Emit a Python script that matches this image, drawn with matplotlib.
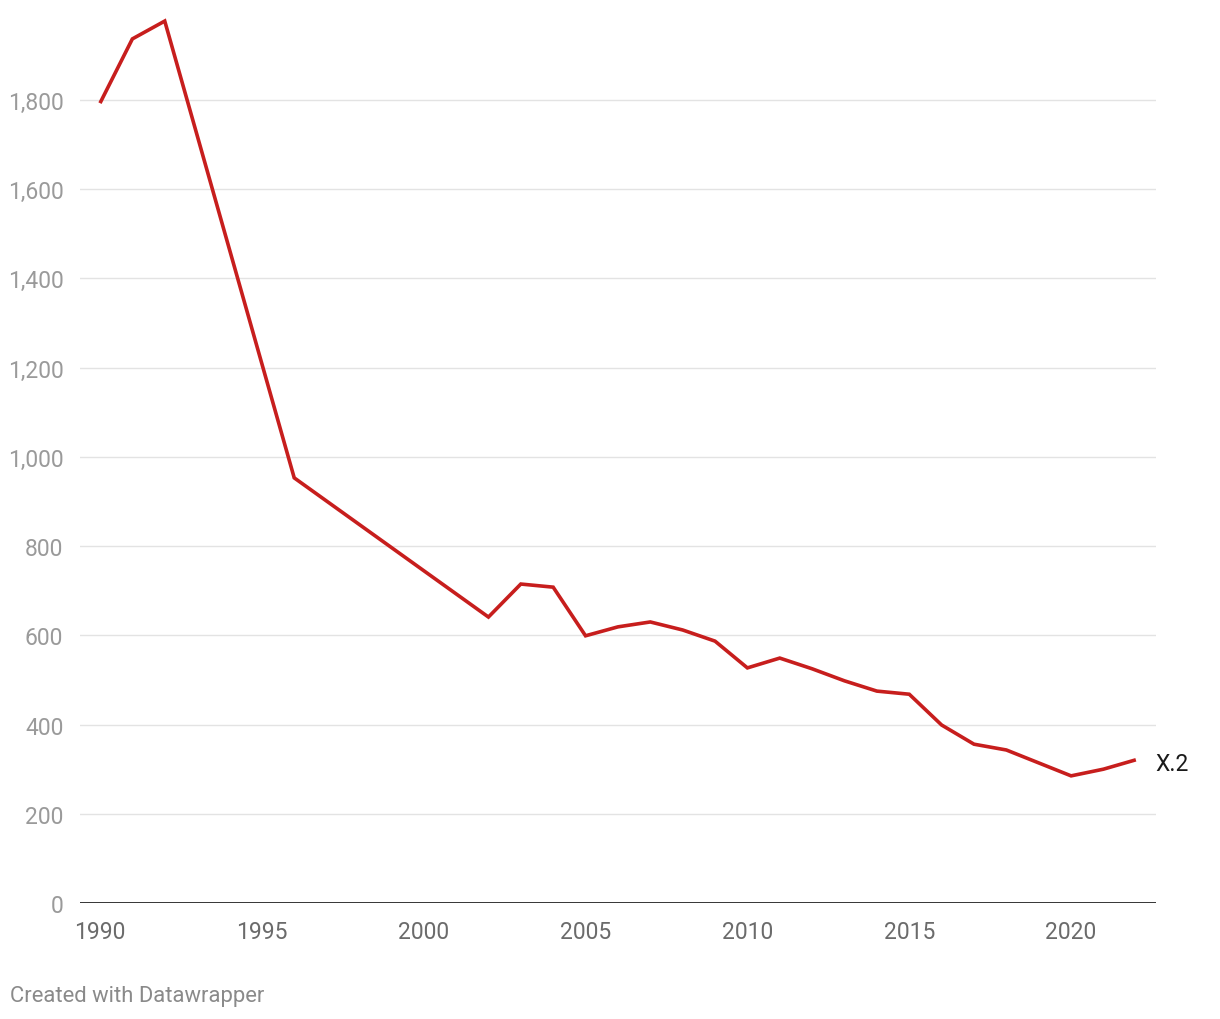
import matplotlib
matplotlib.use("Agg")
import matplotlib.pyplot as plt

years = [1990, 1991, 1992, 1996, 2002, 2003, 2004, 2005, 2006, 2007, 2008, 2009,
         2010, 2011, 2012, 2013, 2014, 2015, 2016, 2017, 2018, 2019, 2020, 2021, 2022]
values = [1793, 1937, 1977, 953, 641, 715, 708, 599, 619, 630, 612, 587,
          527, 549, 525, 498, 475, 468, 399, 356, 343, 314, 285, 300, 321]
series_label = "X.2"
yticks = [0, 200, 400, 600, 800, 1000, 1200, 1400, 1600, 1800]
xticks = [1990, 1995, 2000, 2005, 2010, 2015, 2020]

plt.rcParams['font.family'] = ['Roboto', 'DejaVu Sans']

W, H = 1220, 1020
fig = plt.figure(figsize=(W / 100, H / 100), dpi=100)
left, right, bottom, top = 80, 1156, 904, 21
ax = fig.add_axes([left / W, 1 - bottom / H, (right - left) / W, (bottom - top) / H])

ax.set_ylim(0, (bottom - top) / 0.4461)
x0 = 1990 - (100 - left) / 32.37
x1 = 1990 + (right - 100) / 32.37
ax.set_xlim(x0, x1)

for y in yticks[1:]:
    ax.axhline(y, color="#e3e3e3", lw=1.0, zorder=1)
ax.axhline(0, color="#222222", lw=2.0, zorder=2)

ax.plot(years, values, color="#c71e1d", lw=2.6, solid_joinstyle="miter",
        solid_capstyle="butt", clip_on=False, zorder=3)
ax.text(years[-1] + 0.6, values[-1] - 9, series_label, fontsize=16.5, color="#1a1a1a",
        va="center", ha="left")

for s in ax.spines.values():
    s.set_visible(False)
ax.set_yticks(yticks)
ax.set_yticklabels([f"{v:,}" for v in yticks])
ax.set_xticks(xticks)
ax.set_xticklabels([str(v) for v in xticks])
ax.tick_params(axis="y", length=0, pad=12, labelsize=16.5, labelcolor="#9a9a9a")
ax.tick_params(axis="x", length=0, pad=12, labelsize=16.5, labelcolor="#6b6b6b")

fig.text(10 / W, 1 - 997 / H, "Created with Datawrapper", fontsize=15.8, color="#8a8a8a",
         va="center", ha="left")

fig.savefig("out.png", dpi=100)
